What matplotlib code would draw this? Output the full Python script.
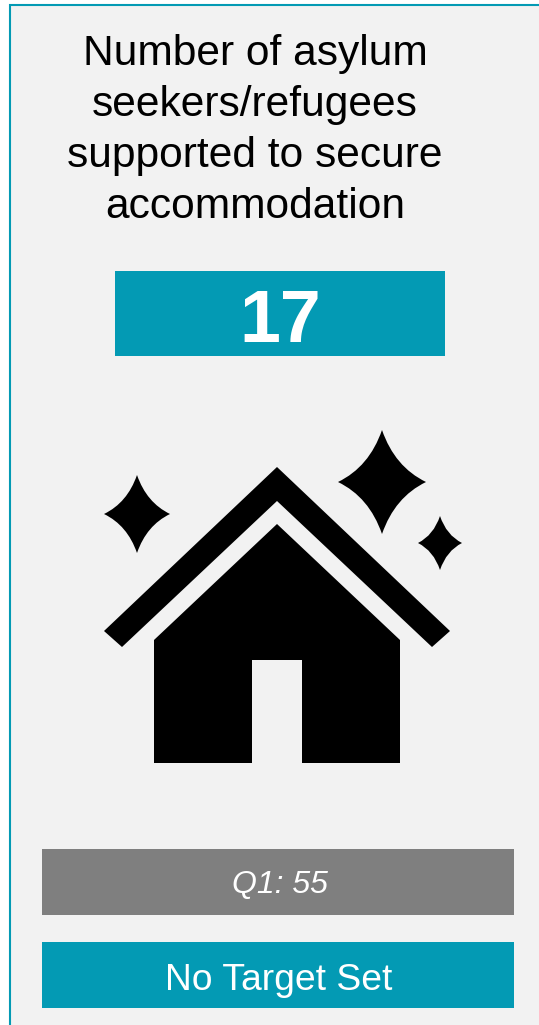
import matplotlib
matplotlib.use("Agg")
import matplotlib.pyplot as plt
from matplotlib.patches import Rectangle, Polygon, PathPatch
from matplotlib.path import Path

title_lines = ["Number of asylum", "seekers/refugees", "supported to secure", "accommodation"]
title_y = [54, 105, 156, 207]
value = "17"
previous = "Q1: 55"
target = "No Target Set"

TEAL = "#039AB4"
GREY = "#7F7F7F"
BG = "#F2F2F2"

plt.rcParams['font.family'] = ['Liberation Sans', 'DejaVu Sans']

fig = plt.figure(figsize=(5.39, 10.25), dpi=100, facecolor="white")
ax = fig.add_axes([0, 0, 1, 1])
ax.set_xlim(0, 539)
ax.set_ylim(1025, 0)
ax.axis("off")


def sparkle(cx, cy, rx, ry):
    # four pointed star with concave sides
    k = 0.29
    verts = [(cx, cy - ry),
             (cx + rx * k, cy - ry * k), (cx + rx, cy),
             (cx + rx * k, cy + ry * k), (cx, cy + ry),
             (cx - rx * k, cy + ry * k), (cx - rx, cy),
             (cx - rx * k, cy - ry * k), (cx, cy - ry)]
    codes = [Path.MOVETO] + [Path.CURVE3] * 8
    ax.add_patch(PathPatch(Path(verts, codes), fc="black", ec="none"))


# panel
ax.add_patch(Rectangle((10, 4.5), 540, 1040, fc=BG, ec=TEAL, lw=1.5))

for line, y in zip(title_lines, title_y):
    ax.text(255, y, line, ha="center", va="center", fontsize=30.6, color="black")

ax.add_patch(Rectangle((115, 271), 330, 85, fc=TEAL, ec="none"))
ax.text(280, 322, value, ha="center", va="center", fontsize=53, fontweight="bold", color="white")

# house
ax.add_patch(Polygon([(104, 631), (277, 467), (450, 631), (432, 647), (277, 501), (122, 647)], fc="black", ec="none"))
ax.add_patch(Polygon([(154, 640), (277, 524), (400, 640), (400, 763), (302, 763), (302, 660),
                      (252, 660), (252, 763), (154, 763)], fc="black", ec="none"))
sparkle(137, 514, 33, 39)
sparkle(382, 482, 44, 52)
sparkle(440, 543, 22, 27)

ax.add_patch(Rectangle((42, 849), 472, 66, fc=GREY, ec="none"))
ax.text(280, 885, previous, ha="center", va="center", fontsize=23, style="italic", color="white")

ax.add_patch(Rectangle((42, 942), 472, 66, fc=TEAL, ec="none"))
ax.text(279, 980, target, ha="center", va="center", fontsize=26.8, color="white")

fig.savefig("out.png", dpi=100)
